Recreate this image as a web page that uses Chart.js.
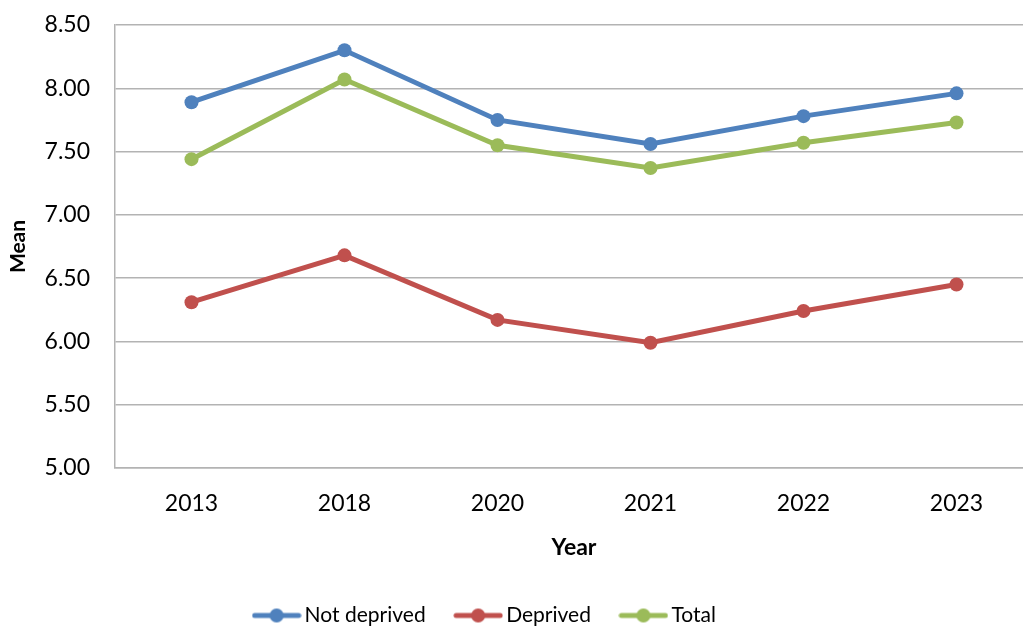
<!DOCTYPE html>
<html>
<head>
<meta charset="utf-8">
<script src="https://cdn.jsdelivr.net/npm/chart.js@4/dist/chart.umd.min.js"></script>
<style>
  html, body { margin: 0; padding: 0; background: #ffffff; overflow: hidden; }
  #wrap { width: 1040px; height: 628px; position: relative; }
</style>
</head>
<body>
<div id="wrap"><canvas id="chart"></canvas></div>
<script>
// Survey years shown on the category axis
const years = ['2013', '2018', '2020', '2021', '2022', '2023'];

// Mean score per year for each group
const notDeprived = [7.89, 8.30, 7.75, 7.56, 7.78, 7.96];
const deprived    = [6.31, 6.68, 6.17, 5.99, 6.24, 6.45];
const total       = [7.44, 8.07, 7.55, 7.37, 7.57, 7.73];

// Series names and colours
const seriesNames = ['Not deprived', 'Deprived', 'Total'];
const seriesColors = ['#4F81BD', '#C0504D', '#9BBB59'];

const FONT = 'Lato, "Open Sans", sans-serif';
const GRID = '#B3B3B3';

// Legend swatch: a short line with a round marker in the middle
function makeSwatch(color) {
  const c = document.createElement('canvas');
  c.width = 50; c.height = 16;
  const g = c.getContext('2d');
  g.strokeStyle = color;
  g.lineWidth = 5;
  g.lineCap = 'round';
  g.beginPath();
  g.moveTo(3, 8); g.lineTo(47, 8);
  g.stroke();
  g.fillStyle = color;
  g.beginPath();
  g.arc(25, 8, 7, 0, Math.PI * 2);
  g.fill();
  return c;
}
const swatches = seriesColors.map(makeSwatch);

function lineSet(label, data, color) {
  return {
    label: label,
    data: data,
    borderColor: color,
    backgroundColor: color,
    borderWidth: 5,
    pointRadius: 7,
    pointHoverRadius: 7,
    pointBorderWidth: 0,
    pointBackgroundColor: color,
    tension: 0,
    fill: false
  };
}

// Nudge the legend row to sit left of centre, under the plot
const legendOffset = {
  id: 'legendOffset',
  afterLayout(chart) {
    const lg = chart.legend;
    if (!lg) return;
    lg.left -= 31; lg.right -= 31;
    lg.top += 8; lg.bottom += 8;
  }
};

new Chart(document.getElementById('chart'), {
  type: 'line',
  data: {
    labels: years,
    datasets: [
      lineSet(seriesNames[0], notDeprived, seriesColors[0]),
      lineSet(seriesNames[1], deprived, seriesColors[1]),
      lineSet(seriesNames[2], total, seriesColors[2])
    ]
  },
  plugins: [legendOffset],
  options: {
    responsive: true,
    maintainAspectRatio: false,
    animation: false,
    layout: { padding: { top: 25, right: 3, left: 0, bottom: 0 } },
    plugins: {
      tooltip: { enabled: false },
      legend: {
        position: 'bottom',
        labels: {
          usePointStyle: true,
          pointStyleWidth: 35,
          padding: 35,
          color: '#000000',
          font: { family: FONT, size: 21 },
          generateLabels: function(chart) {
            return chart.data.datasets.map(function(ds, i) {
              return {
                text: ds.label,
                pointStyle: swatches[i],
                fillStyle: ds.borderColor,
                strokeStyle: ds.borderColor,
                lineWidth: 0,
                fontColor: '#000000',
                hidden: false,
                datasetIndex: i
              };
            });
          }
        }
      }
    },
    scales: {
      x: {
        type: 'category',
        offset: true,
        grid: { display: false, drawTicks: false },
        border: { display: true, color: GRID, width: 1.5 },
        ticks: { color: '#000000', padding: 22, font: { family: FONT, size: 23 } },
        title: {
          display: true, text: 'Year', color: '#000000',
          font: { family: FONT, size: 23, weight: 'bold' },
          padding: { top: 0, bottom: 1 }
        },
        afterFit: function(s) { s.height = 94; s.paddingLeft = 0; s.paddingRight = 0; }
      },
      y: {
        min: 5, max: 8.5,
        grid: { color: GRID, lineWidth: 1.5, drawTicks: false },
        border: { display: true, color: GRID, width: 1.5 },
        ticks: {
          stepSize: 0.5, padding: 25, color: '#000000',
          font: { family: FONT, size: 23 },
          callback: function(v) { return Number(v).toFixed(2); }
        },
        title: {
          display: true, text: 'Mean', color: '#000000',
          font: { family: FONT, size: 21, weight: 'bold' },
          padding: { top: 6, bottom: 0 }
        },
        afterFit: function(s) { s.width = 115; s.paddingTop = 0; s.paddingBottom = 0; }
      }
    }
  }
});
</script>
</body>
</html>
